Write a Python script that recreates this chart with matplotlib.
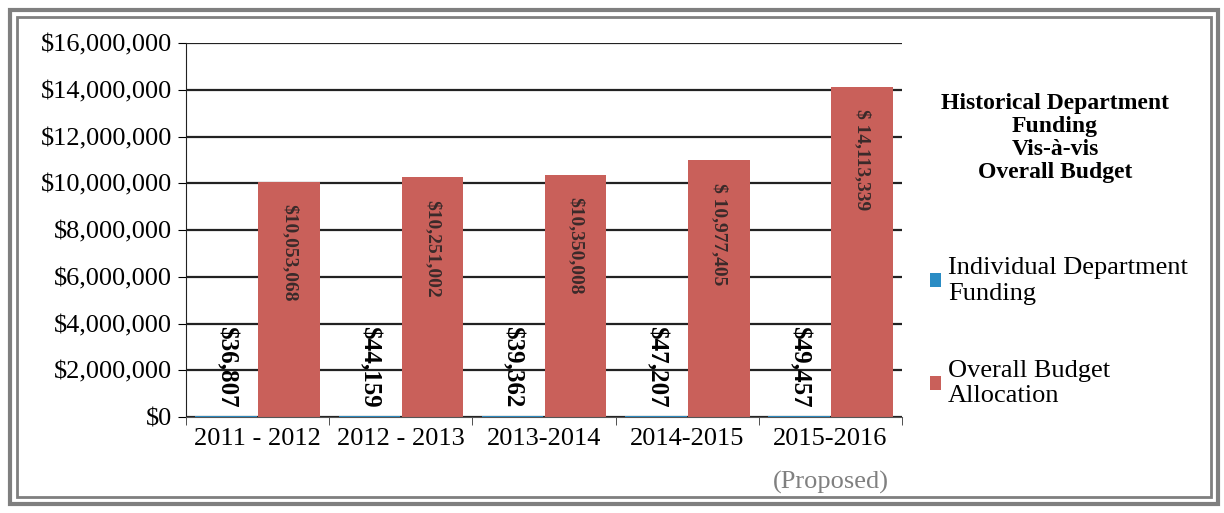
import matplotlib
matplotlib.use("Agg")
import matplotlib.pyplot as plt
from matplotlib.patches import Rectangle
from matplotlib.ticker import FuncFormatter
import numpy as np

# data
years = ["2011 - 2012", "2012 - 2013", "2013-2014", "2014-2015", "2015-2016"]
dept_funding = [36807, 44159, 39362, 47207, 49457]
overall_budget = [10053068, 10251002, 10350008, 10977405, 14113339]
budget_prefix = ["$", "$", "$", "$ ", "$ "]

blue = "#2a8cc4"
red = "#c9605a"

plt.rcParams["font.family"] = ["Liberation Serif", "DejaVu Serif"]

W, H = 1224, 513
fig = plt.figure(figsize=(W / 100, H / 100), dpi=100)
ax = fig.add_axes([0.152, 0.187, 0.585, 0.729])

x = np.arange(len(years))
w = 0.43
ax.bar(x - 0.22, dept_funding, w, color=blue, label="Individual Department\nFunding")
ax.bar(x + 0.22, overall_budget, w, color=red, label="Overall Budget\nAllocation")

# value labels
for xi, v in zip(x, dept_funding):
    ax.annotate(f"${v:,}", (xi - 0.22, v), xytext=(0, 6), textcoords="offset points",
                rotation=270, ha="center", va="bottom", fontsize=18, fontweight="bold")
for xi, v, p in zip(x, overall_budget, budget_prefix):
    ax.annotate(f"{p}{v:,}", (xi + 0.22, v), xytext=(0, -16), textcoords="offset points",
                rotation=270, ha="center", va="top", fontsize=14, fontweight="bold",
                color="#3a2a2a")

ax.set_xlim(-0.5, len(years) - 0.5)
ax.set_ylim(0, 16000000)
ax.set_yticks(np.arange(0, 16000001, 2000000))
ax.yaxis.set_major_formatter(FuncFormatter(lambda v, p: f"${v:,.0f}"))
ax.grid(axis="y", color="#222222", linewidth=1.6)
ax.set_axisbelow(True)

ax.set_xticks(x)
ax.set_xticklabels(years)
ax.set_xticks(np.arange(-0.5, len(years)), minor=True)
ax.tick_params(axis="x", which="major", length=0, pad=8, labelsize=19)
ax.tick_params(axis="x", which="minor", length=6, color="#333333")
ax.tick_params(axis="y", length=6, labelsize=19, pad=4)
ax.text(x[-1], -0.145, "(Proposed)", transform=ax.get_xaxis_transform(),
        ha="center", va="top", fontsize=19, color="#808080")

for s in ["top", "right"]:
    ax.spines[s].set_visible(False)
ax.spines["left"].set_color("#222222")
ax.spines["bottom"].set_color("#555555")

# legend area
fig.text(0.862, 0.818, "Historical Department\nFunding\nVis-à-vis\nOverall Budget",
         ha="center", va="top", fontsize=17, fontweight="bold", linespacing=1.12)
fig.legend(loc="upper left", bbox_to_anchor=(0.74, 0.545), frameon=False,
           fontsize=19, handlelength=0.45, handleheight=0.45, handletextpad=0.25,
           labelspacing=2.1)

# double grey border (pixel boxes: left, top, right, bottom)
for (l, t, r, b), lw in [((10, 10, 1218, 504), 3.0), ((17, 17, 1211, 497), 2.0)]:
    fig.add_artist(Rectangle((l / W, 1 - b / H), (r - l) / W, (b - t) / H,
                             transform=fig.transFigure, fill=False,
                             edgecolor="#7f7f7f", linewidth=lw))

fig.savefig("out.png", dpi=100)
